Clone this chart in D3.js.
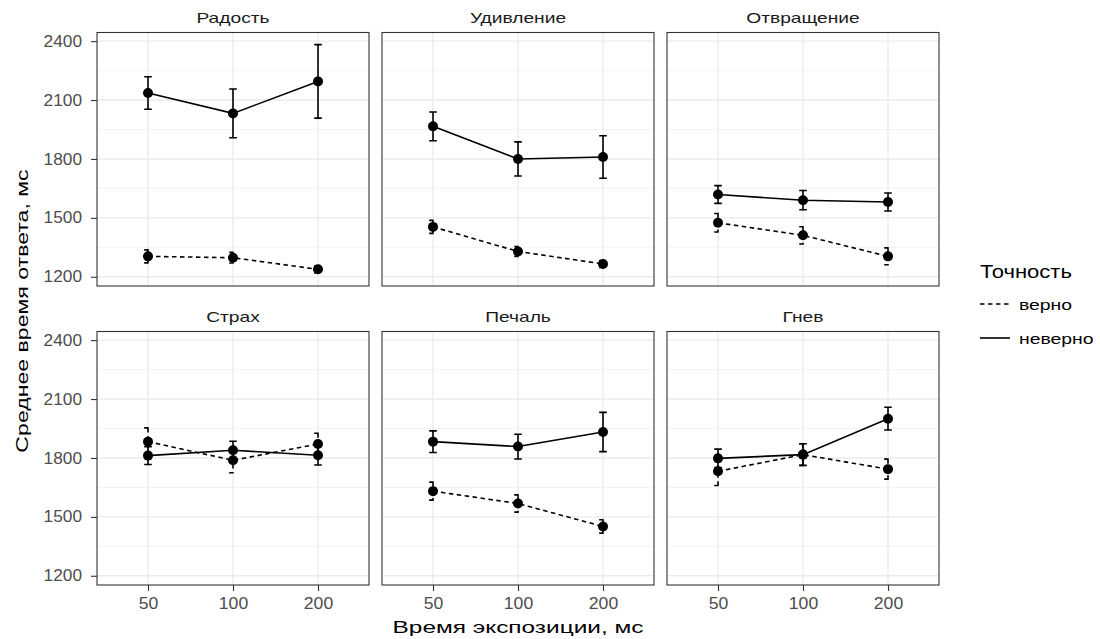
<!DOCTYPE html>
<html><head><meta charset="utf-8">
<script src="https://cdn.jsdelivr.net/npm/d3@7"></script>
<style>body{margin:0;background:#fff;} svg{display:block;font-family:"Liberation Sans",Arial,sans-serif;}</style>
</head><body>
<svg id="chart" width="1100" height="639"></svg>
<script>
const emotions = ["Радость","Удивление","Отвращение","Страх","Печаль","Гнев"];
const exposures = ["50","100","200"];
const accuracyLevels = ["верно","неверно"];
const yTicks = [1200,1500,1800,2100,2400];
const yMinor = [1350,1650,1950,2250];
// means and half-widths of error bars, one row per emotion, columns = exposures
const meanCorrect   = [[1304,1297,1238],[1454,1329,1265],[1475,1411,1304],[1883,1788,1871],[1631,1568,1451],[1732,1817,1743]];
const errCorrect    = [[33,27,18],[33,25,18],[47,44,43],[70,63,55],[46,44,34],[72,55,51]];
const meanIncorrect = [[2136,2032,2195],[1966,1800,1810],[1619,1590,1581],[1812,1839,1814],[1883,1858,1932],[1798,1817,2000]];
const errIncorrect  = [[83,124,187],[73,87,108],[45,49,46],[45,46,50],[55,63,100],[47,55,58]];

const svg = d3.select("#chart");
const panelW = 272, panelH = 253.5;
const colX = [97, 382, 667];
const rowY = [32.5, 331.5];

const x = d3.scalePoint().domain(exposures).range([0, panelW]).padding(0.6);
const y = d3.scaleLinear().domain([1153, 2444]).range([panelH, 0]);

// horizontally widened text (the reference font renders wide)
function wideText(parent, px, py, str, size, sx, anchor, rotate) {
  const g = parent.append("g")
    .attr("transform", `translate(${px},${py})` + (rotate ? ` rotate(${rotate})` : "") + ` scale(${sx},1)`);
  return g.append("text").attr("text-anchor", anchor || "start").attr("font-size", size).text(str);
}

const series = [
  {acc: accuracyLevels[0], means: meanCorrect, errs: errCorrect, dash: "4.5,3.5"},
  {acc: accuracyLevels[1], means: meanIncorrect, errs: errIncorrect, dash: null}
];

emotions.forEach((emo, i) => {
  const col = i % 3, row = Math.floor(i / 3);
  const g = svg.append("g").attr("transform", `translate(${colX[col]},${rowY[row]})`);
  g.append("rect").attr("width", panelW).attr("height", panelH).attr("fill", "#fff");
  // grid
  g.selectAll(".minor").data(yMinor).join("line")
    .attr("x1", 0).attr("x2", panelW).attr("y1", d => y(d)).attr("y2", d => y(d))
    .attr("stroke", "#f0f0f0").attr("stroke-width", 0.8);
  g.selectAll(".major").data(yTicks).join("line")
    .attr("x1", 0).attr("x2", panelW).attr("y1", d => y(d)).attr("y2", d => y(d))
    .attr("stroke", "#ebebeb").attr("stroke-width", 1.4);
  g.selectAll(".vmajor").data(exposures).join("line")
    .attr("x1", d => x(d)).attr("x2", d => x(d)).attr("y1", 0).attr("y2", panelH)
    .attr("stroke", "#ebebeb").attr("stroke-width", 1.4);

  series.forEach(s => {
    const pts = exposures.map((e, j) => ({e, m: s.means[i][j], se: s.errs[i][j]}));
    const line = d3.line().x(d => x(d.e)).y(d => y(d.m));
    g.append("path").datum(pts).attr("d", line).attr("fill", "none")
      .attr("stroke", "#000").attr("stroke-width", 1.6)
      .attr("stroke-dasharray", s.dash);
    const eb = g.append("g");
    pts.forEach(d => {
      const cx = x(d.e), y1 = y(d.m + d.se), y2 = y(d.m - d.se);
      const p = `M${cx - 3.8},${y1}H${cx + 3.8}M${cx},${y1}V${y2}M${cx - 3.8},${y2}H${cx + 3.8}`;
      eb.append("path").attr("d", p).attr("fill", "none").attr("stroke", "#000")
        .attr("stroke-width", 1.6).attr("stroke-dasharray", s.dash);
    });
    g.selectAll(null).data(pts).join("circle")
      .attr("cx", d => x(d.e)).attr("cy", d => y(d.m)).attr("r", 5).attr("fill", "#000");
  });

  g.append("rect").attr("width", panelW).attr("height", panelH)
    .attr("fill", "none").attr("stroke", "#333").attr("stroke-width", 1.1);

  // strip title
  wideText(g, panelW / 2, -10, emo, 15, 1.28, "middle").attr("fill", "#1a1a1a");

  // y axis on first column
  if (col === 0) {
    const ax = g.append("g").call(d3.axisLeft(y).tickValues(yTicks).tickSize(6).tickPadding(9).tickFormat(d3.format("d")));
    ax.select(".domain").remove();
    ax.selectAll("line").attr("stroke", "#333").attr("stroke-width", 1.1);
    ax.selectAll("text").attr("font-size", 16).attr("fill", "#4d4d4d")
      .attr("font-family", "Liberation Sans, Arial, sans-serif")
      .attr("transform", "scale(1.08,1)").attr("x", -15 / 1.08);
  }
  // x axis on bottom row
  if (row === 1) {
    const ax = g.append("g").attr("transform", `translate(0,${panelH})`)
      .call(d3.axisBottom(x).tickSize(6).tickPadding(6.5));
    ax.select(".domain").remove();
    ax.selectAll("line").attr("stroke", "#333").attr("stroke-width", 1.1);
    ax.selectAll(".tick text").each(function () {
      const t = d3.select(this);
      t.attr("font-size", 16).attr("fill", "#4d4d4d").attr("font-family", "Liberation Sans, Arial, sans-serif");
    });
    ax.selectAll(".tick").each(function (d) {
      d3.select(this).select("text").attr("transform", "scale(1.1,1)");
    });
  }
});

// axis titles
wideText(svg, 518, 633, "Время экспозиции, мс", 16.5, 1.48, "middle").attr("fill", "#000");
wideText(svg, 28, 311, "Среднее время ответа, мс", 16.5, 1.4, "middle", -90).attr("fill", "#000");

// legend
wideText(svg, 980, 278, "Точность", 18.5, 1.19, "start").attr("fill", "#000");
series.forEach((s, k) => {
  const yy = 304 + k * 34;
  svg.append("line").attr("x1", 980).attr("x2", 1010).attr("y1", yy).attr("y2", yy)
    .attr("stroke", "#000").attr("stroke-width", 1.6).attr("stroke-dasharray", s.dash);
  wideText(svg, 1019, yy + 6, s.acc, 15.5, 1.25, "start").attr("fill", "#000");
});
</script>
</body></html>
